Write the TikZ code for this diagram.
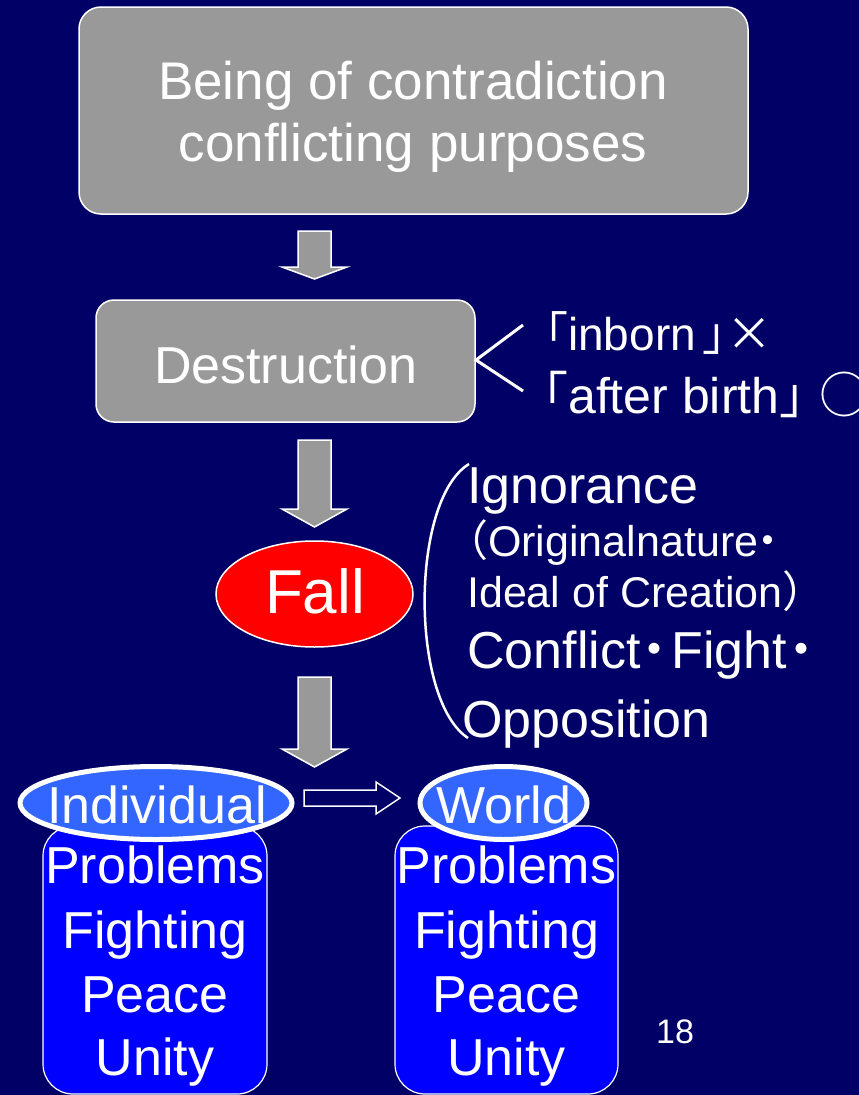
\documentclass[tikz,border=0pt]{standalone}
\usepackage{fontspec}
\setmainfont{Liberation Sans}
\newfontfamily\cjk{Noto Sans CJK JP}
\usetikzlibrary{shapes.geometric}
\definecolor{bgnavy}{HTML}{000066}
\definecolor{boxgray}{HTML}{999999}
\definecolor{ellblue}{HTML}{3366FF}
\definecolor{boxblue}{HTML}{0000FF}
\newcommand\fs[1]{\fontsize{#1}{#1}\selectfont}
\newcommand\dnarrow[4]{% x, top, head base, tip
  \draw[blockarrow] (#1-16.5,#2) -- (#1+16.5,#2) -- (#1+16.5,#3) -- (#1+32.5,#3) -- (#1,#4) -- (#1-32.5,#3) -- (#1-16.5,#3) -- cycle;}
\begin{document}
\begin{tikzpicture}[x=1pt,y=-1pt,
  txt/.style={text=white, inner sep=0pt},
  graybox/.style={draw=white, line width=1.5pt, fill=boxgray, rounded corners=22pt},
  blockarrow/.style={draw=white, line width=1.5pt, fill=boxgray},
  bluebox/.style={draw=white, line width=1.2pt, fill=boxblue, rounded corners=30pt},
  ell/.style={ellipse, draw=white, line width=5pt, fill=ellblue, inner sep=0pt}
]
\path[use as bounding box, fill=bgnavy] (0,0) rectangle (859,1095);

% top box
\node[graybox, minimum width=669pt, minimum height=207pt] (top) at (413.5,110.5) {};
\node[txt, anchor=base, font=\fs{53}] (t1) at (413,99) {Being of contradiction};
\node[txt, anchor=base, font=\fs{53}] (t2) at (413,161) {conflicting purposes};

\dnarrow{314.5}{231}{267}{279}

% destruction
\node[graybox, rounded corners=18pt, minimum width=379pt, minimum height=122pt] (des) at (285.5,361) {};
\node[txt, anchor=base, font=\fs{52}] (dest) at (285.5,383) {Destruction};

\draw[white, line width=3pt] (523,325) -- (476,360) -- (523,391);
\node[txt, anchor=base west, font=\fs{46}] (inb) at (522,350) {{\cjk 「}inborn{\cjk\kern6pt 」\kern-22pt ×}};
\node[txt, anchor=base west, font=\fs{50}] (aft) at (518,413) {{\cjk 「}after birth{\cjk 」\kern-10pt ○}};

\dnarrow{314.5}{440}{509}{527}

% fall
\node[ellipse, draw=white, line width=1.5pt, fill=red, minimum width=197pt, minimum height=106pt, inner sep=0pt] (fall) at (314.5,594) {};
\node[txt, anchor=base, font=\fs{62}] (fallt) at (315,613) {Fall};

\draw[white, line width=2.5pt] (469,464) .. controls (410,500) and (410,700) .. (468,738);
\node[txt, anchor=base west, font=\fs{52}] (ign) at (467,503) {Ignorance};
\node[txt, anchor=base west, font=\fs{43}] (orig) at (445,556) {{\cjk （}Originalnature{\cjk\kern-12pt ・}};
\node[txt, anchor=base west, font=\fs{43}] (ideal) at (467,607) {Ideal of Creation{\cjk ）}};
\node[txt, anchor=base west, font=\fs{52}] (conf) at (467,668) {Conflict{\cjk\kern-12pt ・\kern-9pt}Fight{\cjk\kern-12pt ・}};
\node[txt, anchor=base west, font=\fs{52}] (opp) at (462,737) {Opposition};

\dnarrow{314.5}{677}{749}{767}

% bottom
\node[bluebox, minimum width=224pt, minimum height=268pt] (indbox) at (155,960) {};
\node[bluebox, minimum width=223pt, minimum height=268pt] (wbox) at (506.5,960) {};
\node[ell, minimum width=272pt, minimum height=73pt] (ind) at (156,803) {};
\node[ell, minimum width=167pt, minimum height=73pt] (world) at (503.5,803) {};
\node[txt, anchor=base, font=\fs{52}] (indt) at (157,823) {Individual};
\node[txt, anchor=base, font=\fs{52}] (worldt) at (504,823) {World};

\draw[white, line width=1.5pt, fill=bgnavy] (304,790) -- (376,790) -- (376,782) -- (400,798) -- (376,814) -- (376,806) -- (304,806) -- cycle;

\foreach \w/\y in {Problems/883, Fighting/948, Peace/1012, Unity/1075}{
  \node[txt, anchor=base, font=\fs{52}] (i\w) at (155,\y) {\w};
  \node[txt, anchor=base, font=\fs{52}] (w\w) at (506.5,\y) {\w};
}
\node[txt, anchor=base, font=\fs{34}] (pg) at (675,1043) {18};
\end{tikzpicture}
\end{document}
